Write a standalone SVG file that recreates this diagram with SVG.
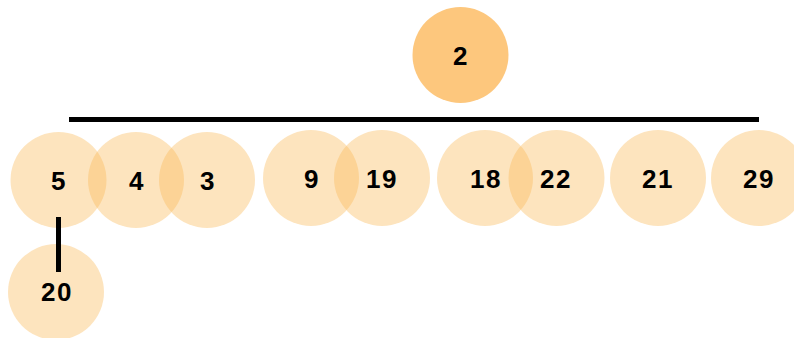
<svg xmlns="http://www.w3.org/2000/svg" width="794" height="338" viewBox="0 0 794 338">
<style>
.n{fill:#FBB954;fill-opacity:0.38}
.root{fill:#FDC77D}
text{font-family:"Liberation Sans",Arial,sans-serif;font-weight:bold;font-size:26px;fill:#000;text-anchor:middle;dominant-baseline:central;letter-spacing:1.5px}
.e{stroke:#000;stroke-width:5;fill:none}
</style>
<rect width="794" height="338" fill="#fff"/>
<g id="node-2"><circle class="root" cx="460.5" cy="55" r="48"/><text x="461" y="56">2</text></g>
<g id="node-5"><circle class="n" cx="58.5" cy="180" r="48"/><text x="59" y="181">5</text></g>
<g id="node-4"><circle class="n" cx="136" cy="180" r="48"/><text x="137" y="181">4</text></g>
<g id="node-3"><circle class="n" cx="207" cy="180" r="48"/><text x="208" y="181">3</text></g>
<g id="node-9"><circle class="n" cx="311" cy="178" r="48"/><text x="312" y="179">9</text></g>
<g id="node-19"><circle class="n" cx="382" cy="178" r="48"/><text x="382" y="179">19</text></g>
<g id="node-18"><circle class="n" cx="485" cy="178" r="48"/><text x="486" y="179">18</text></g>
<g id="node-22"><circle class="n" cx="556.5" cy="178" r="48"/><text x="556" y="179">22</text></g>
<g id="node-21"><circle class="n" cx="658" cy="178" r="48"/><text x="658" y="179">21</text></g>
<g id="node-29"><circle class="n" cx="759" cy="178" r="48"/><text x="759" y="179">29</text></g>
<g id="node-20"><circle class="n" cx="56" cy="292" r="48"/><text x="57" y="292">20</text></g>
<g id="connectors">
<line class="e" x1="69" y1="119.5" x2="759" y2="119.5"/>
<line class="e" x1="58.5" y1="217" x2="58.5" y2="272"/>
</g>
</svg>
